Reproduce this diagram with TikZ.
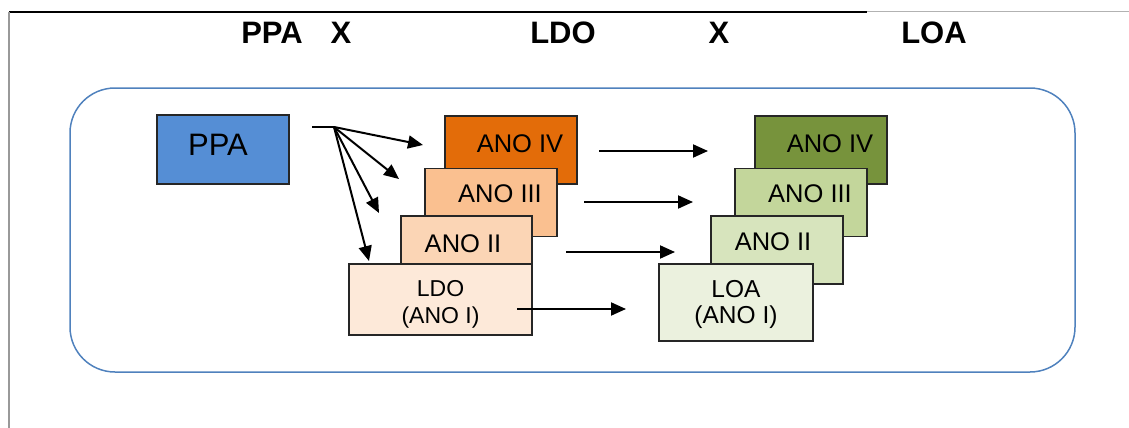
\documentclass[tikz,border=0pt]{standalone}
\usepackage{fontspec}
\setmainfont{Liberation Sans}
\usetikzlibrary{arrows.meta}

\definecolor{ppablue}{HTML}{558ED5}
\definecolor{ldofour}{HTML}{E36C09}
\definecolor{ldothree}{HTML}{FAC090}
\definecolor{ldotwo}{HTML}{FBD5B5}
\definecolor{ldoone}{HTML}{FDE9D9}
\definecolor{loafour}{HTML}{77933C}
\definecolor{loathree}{HTML}{C3D69B}
\definecolor{loatwo}{HTML}{D7E4BD}
\definecolor{loaone}{HTML}{EBF1DE}
\definecolor{frameblue}{HTML}{4F81BD}

\begin{document}
\begin{tikzpicture}[x=1pt,y=-1pt,
  anobox/.style={draw=black!85,line width=1.6pt,minimum width=132pt,minimum height=68pt,inner sep=0pt,text height=18pt,text depth=14pt,font=\fontsize{25.5}{28}\selectfont},
  basebox/.style={draw=black!85,line width=1.6pt,inner sep=0pt,align=center,font=\fontsize{23}{26.5}\selectfont},
  flow/.style={-{Triangle[length=15pt,width=13pt]},line width=2pt},
  title/.style={font=\fontsize{31}{34}\selectfont\bfseries}]

\useasboundingbox (0,0) rectangle (1129,428);

% page rules
\draw [line width=1.5pt] (9,12) -- (867,12);
\draw [gray!60, line width=1pt] (867,12) -- (1129,12);
\draw [gray!80, line width=1.2pt] (9,12) -- (9,428);

% heading
\node (tppa) at (272,33) [title] {PPA};
\node (txa) at (341,33) [title] {X};
\node (tldo) at (563,33) [title] {LDO};
\node (txb) at (719,33) [title] {X};
\node (tloa) at (934,33) [title] {LOA};

\draw [frameblue, line width=1.5pt, rounded corners=45pt] (70,88) rectangle (1075,372);

\node (ppa) at (223,149.5) [draw=black!85,fill=ppablue,line width=1.6pt,minimum width=132pt,minimum height=69pt,inner sep=0pt,font=\fontsize{31}{34}\selectfont] {\raisebox{9pt}{PPA}\hspace*{10pt}};

% LDO stack
\node (ldo4) at (511,150) [anobox,fill=ldofour] {\hspace*{18pt}ANO IV};
\node (ldo3) at (491,202.5) [anobox,fill=ldothree,text depth=19pt] {\hspace*{18pt}ANO III};
\node (ldo2) at (466.5,250) [anobox,minimum width=131pt,fill=ldotwo] {ANO II\hspace*{7pt}};
\node (ldo1) at (440.5,299.5) [basebox,fill=ldoone,minimum width=183pt,minimum height=71pt] {\rule{0pt}{26pt}LDO\\(ANO I)};

% LOA stack
\node (loa4) at (821,150) [anobox,fill=loafour] {\hspace*{18pt}ANO IV};
\node (loa3) at (801,202.5) [anobox,fill=loathree,text depth=19pt] {\hspace*{18pt}ANO III};
\node (loa2) at (777,250) [anobox,fill=loatwo,text depth=18pt] {ANO II\hspace*{8pt}};
\node (loa1) at (736,302.5) [basebox,fill=loaone,minimum width=154pt,minimum height=77pt,font=\fontsize{24.5}{26.5}\selectfont] {\rule{0pt}{21pt}LOA\\(ANO I)};

% fan out of PPA
\coordinate (stub) at (312,127);
\coordinate (fan) at (334,127);
\coordinate (f4) at (423,145);
\coordinate (f3) at (399,179);
\coordinate (f2) at (379,213);
\coordinate (f1) at (369,261);
\draw [line width=2pt] (stub) -- (fan);
\draw [flow] (fan) -- (f4);
\draw [flow] (fan) -- (f3);
\draw [flow] (fan) -- (f2);
\draw [flow] (fan) -- (f1);

% LDO to LOA
\coordinate (s4) at (599,151);
\coordinate (e4) at (708,151);
\coordinate (s3) at (584,202);
\coordinate (e3) at (693,202);
\coordinate (s2) at (566,252);
\coordinate (e2) at (675,252);
\coordinate (s1) at (517,309);
\coordinate (e1) at (626,309);
\draw [flow] (s4) -- (e4);
\draw [flow] (s3) -- (e3);
\draw [flow] (s2) -- (e2);
\draw [flow] (s1) -- (e1);

\end{tikzpicture}
\end{document}
